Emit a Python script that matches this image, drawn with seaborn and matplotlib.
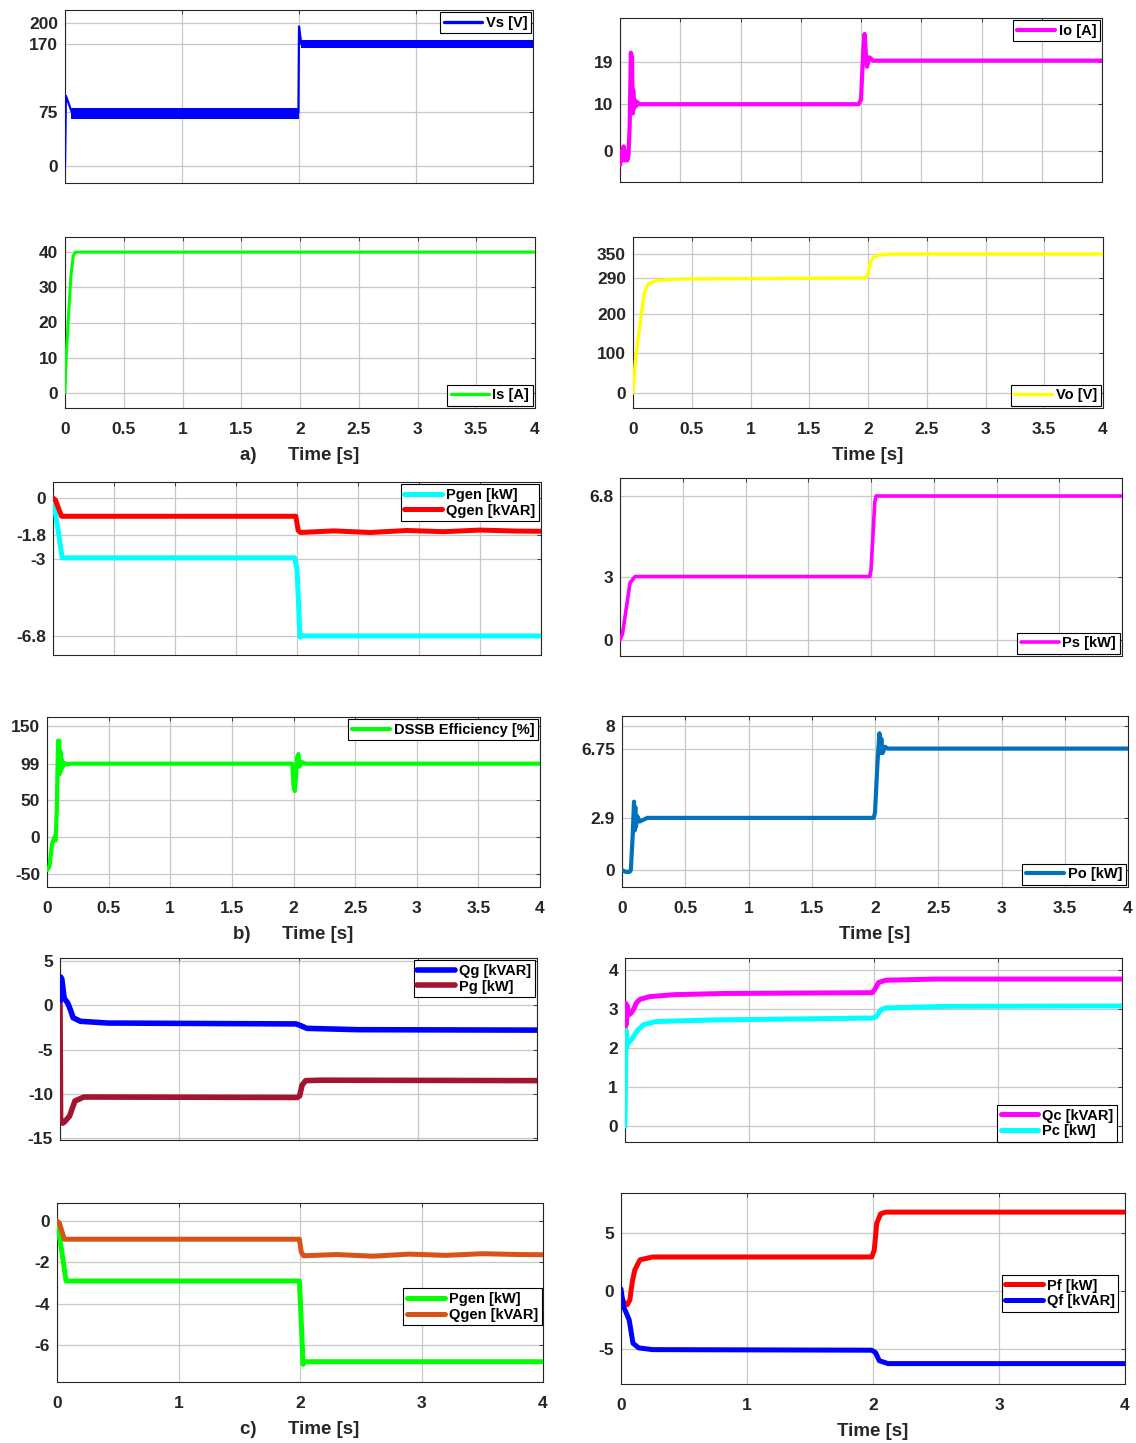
import numpy as np
import pandas as pd
import matplotlib
matplotlib.use("Agg")
import matplotlib.pyplot as plt
import seaborn as sns

# ---------------- data (time in s) ----------------
# a) source / output quantities
vs_t = [0, 0.008, 0.03, 0.06, 1.995, 2.0, 2.008, 2.02, 4.0]
vs_v = [0, 98, 88, 74, 74, 195, 185, 170, 170]
vs_band_t1 = [0.05, 1.998]
vs_band_lo1 = [65.5, 65.5]
vs_band_hi1 = [81.5, 81.5]
vs_band_t2 = [2.02, 4.0]
vs_band_lo2 = [165, 165]
vs_band_hi2 = [176, 176]

io_t = [0, 0.01, 0.02, 0.03, 0.04, 0.05, 0.06, 0.07, 0.08, 0.09, 0.1, 0.105, 0.11,
        0.115, 0.12, 0.13, 0.14, 0.16, 1.98, 2.0, 2.02, 2.03, 2.04, 2.05, 2.07, 2.1, 4.0]
io_v = [-3, 0, -2, 1, -2, 0, -2, -1, 5, 21, 20, 8, 13, 9, 11, 9.5, 10.5, 10, 10, 11,
        22, 25, 21, 18, 20, 19.3, 19.3]

is_t = [0, 0.01, 0.03, 0.05, 0.07, 0.09, 4.0]
is_v = [0, 10, 22, 33, 39, 40, 40]

vo_t = [0, 0.02, 0.05, 0.08, 0.1, 0.13, 0.2, 0.4, 1.98, 2.0, 2.02, 2.05, 2.1, 2.2, 4.0]
vo_v = [0, 80, 150, 220, 255, 275, 283, 287, 290, 300, 330, 343, 348, 350, 350]

# b) generator, DSSB power and efficiency
pgen_b_t = [0, 0.04, 0.075, 1.98, 2.0, 2.025, 2.035, 4.0]
pgen_b_v = [0, -1.5, -2.95, -2.95, -3.5, -6.85, -6.8, -6.8]
qgen_b_t = [0, 0.02, 0.07, 1.99, 2.01, 2.03, 2.3, 2.6, 2.9, 3.2, 3.5, 3.8, 4.0]
qgen_b_v = [0, -0.1, -0.9, -0.9, -1.6, -1.7, -1.62, -1.7, -1.6, -1.66, -1.58, -1.63, -1.64]

ps_t = [0, 0.02, 0.05, 0.08, 0.12, 1.99, 2.0, 2.03, 2.04, 4.0]
ps_v = [0, 0.3, 1.5, 2.7, 3.0, 3.0, 3.3, 6.5, 6.8, 6.8]

eff_t = [0.0, 0.02, 0.04, 0.06, 0.07, 0.08, 0.085, 0.09, 0.1, 0.105, 0.11, 0.115, 0.12,
         0.13, 0.14, 0.16, 0.2, 1.99, 2.0, 2.01, 2.02, 2.03, 2.04, 2.05, 2.07, 2.1, 4.0]
eff_v = [-45, -40, -10, 0, -5, 40, 90, 130, 130, 85, 115, 90, 105, 95, 100, 98, 99, 99,
         70, 62, 80, 108, 112, 95, 101, 99, 99]

po_t = [0, 0.03, 0.06, 0.07, 0.085, 0.095, 0.1, 0.105, 0.11, 0.12, 0.14, 0.2, 1.99, 2.0,
        2.02, 2.035, 2.04, 2.05, 2.06, 2.08, 2.1, 4.0]
po_v = [0, -0.1, -0.1, 0, 2.0, 3.8, 2.2, 3.5, 2.4, 3.0, 2.7, 2.9, 2.9, 3.2, 6.0, 7.6,
        6.5, 7.3, 6.5, 6.85, 6.75, 6.75]

# c) grid, compensator and filter powers
qg_t = [0, 0.005, 0.015, 0.035, 0.065, 0.09, 0.11, 0.17, 0.4, 1.98, 2.02, 2.07, 2.5, 4.0]
qg_v = [0.3, 3.2, 3.0, 0.8, 0.25, -0.6, -1.4, -1.8, -2.0, -2.1, -2.3, -2.6, -2.75, -2.8]
pg_t = [0, 0.005, 0.02, 0.035, 0.08, 0.125, 0.2, 1.99, 2.01, 2.03, 2.06, 2.2, 4.0]
pg_v = [0, -12.8, -13.3, -13.2, -12.5, -10.8, -10.35, -10.4, -10.2, -9.0, -8.5, -8.45, -8.5]

qc_t = [0, 0.005, 0.01, 0.015, 0.03, 0.05, 0.07, 0.09, 0.12, 0.2, 0.4, 0.8, 1.99, 2.01,
        2.04, 2.1, 2.5, 4.0]
qc_v = [2.5, 3.15, 2.6, 3.1, 2.85, 2.9, 3.0, 3.15, 3.25, 3.32, 3.37, 3.4, 3.42, 3.5,
        3.68, 3.74, 3.77, 3.77]
pc_t = [0, 0.008, 0.012, 0.02, 0.06, 0.1, 0.15, 0.25, 0.7, 1.99, 2.02, 2.06, 2.1, 2.6, 4.0]
pc_v = [0, 2.45, 2.0, 2.1, 2.25, 2.45, 2.6, 2.68, 2.72, 2.77, 2.8, 2.98, 3.03, 3.07, 3.08]

pgen_c_t = [0, 0.04, 0.075, 1.995, 2.015, 2.025, 2.04, 4.0]
pgen_c_v = [0, -1.5, -2.9, -2.9, -5.5, -6.93, -6.8, -6.8]
qgen_c_t = [0, 0.02, 0.06, 1.995, 2.01, 2.03, 2.3, 2.6, 2.9, 3.2, 3.5, 3.8, 4.0]
qgen_c_v = [0, -0.1, -0.88, -0.88, -1.5, -1.68, -1.62, -1.7, -1.6, -1.66, -1.58, -1.62, -1.63]

pf_t = [0, 0.03, 0.05, 0.07, 0.09, 0.11, 0.15, 0.25, 1.99, 2.01, 2.03, 2.06, 2.1, 4.0]
pf_v = [-0.5, -1.1, -1.2, -0.8, 0.8, 1.8, 2.65, 2.9, 2.9, 3.5, 5.8, 6.6, 6.75, 6.75]
qf_t = [0, 0.02, 0.065, 0.095, 0.14, 0.25, 1.99, 2.02, 2.05, 2.12, 4.0]
qf_v = [0.15, -1.35, -2.5, -4.5, -4.9, -5.05, -5.1, -5.3, -6.0, -6.25, -6.25]

# ---------------- styling ----------------
sns.set_theme(style="whitegrid")
plt.rcParams["font.family"] = ["Liberation Sans", "DejaVu Sans"]
plt.rcParams["font.weight"] = "bold"
plt.rcParams["axes.unicode_minus"] = False

W, H = 1136, 1443
fig = plt.figure(figsize=(W / 100, H / 100), dpi=100)
fig.patch.set_facecolor("white")

TXT = "#262626"
GRID = "#c8c8c8"


def fmt(v):
    return f"{v:g}"


def panel(box, ylim, yticks, xstep, show_xlabels, traces, leg_loc, leg_anchor=None,
          xlabel=None, bands=None):
    x0, y0, x1, y1 = box
    ax = fig.add_axes([x0 / W, 1 - y1 / H, (x1 - x0) / W, (y1 - y0) / H])
    ax.set_facecolor("white")
    if bands:
        for bt, lo, hi, col in bands:
            ax.fill_between(bt, lo, hi, color=col, linewidth=0, zorder=2)
    for t, v, col, lw, lab in traces:
        df = pd.DataFrame({"t": t, "v": v})
        sns.lineplot(data=df, x="t", y="v", ax=ax, color=col, linewidth=lw,
                     label=lab, estimator=None, sort=False, zorder=3)
    ax.set_xlim(0, 4)
    ax.set_ylim(*ylim)
    xt = np.arange(0, 4 + 1e-9, xstep)
    ax.set_xticks(xt)
    ax.set_yticks(yticks)
    ax.set_yticklabels([fmt(v) for v in yticks])
    if show_xlabels:
        ax.set_xticklabels([fmt(v) for v in xt])
    else:
        ax.set_xticklabels([])
    ax.tick_params(axis="both", which="both", direction="in", length=3, width=0.6,
                   colors=TXT, labelsize=12.5, top=True, right=True)
    ax.tick_params(axis="x", pad=10)
    ax.tick_params(axis="y", pad=5)
    for lab in ax.get_xticklabels() + ax.get_yticklabels():
        lab.set_fontweight("bold")
    ax.grid(True, color=GRID, linewidth=0.9)
    ax.set_axisbelow(True)
    for sp in ax.spines.values():
        sp.set_color(TXT)
        sp.set_linewidth(0.8)
        sp.set_visible(True)
    ax.set_ylabel("")
    if xlabel:
        ax.set_xlabel(xlabel, fontsize=13.5, fontweight="bold", color=TXT, labelpad=7)
    else:
        ax.set_xlabel("")
    kw = dict(loc=leg_loc, prop={"weight": "bold", "size": 10.5}, frameon=True,
              fancybox=False, framealpha=1, edgecolor="black", borderpad=0.25,
              labelspacing=0.12, handlelength=2.6, handletextpad=0.25,
              borderaxespad=0.15)
    if leg_anchor is not None:
        kw["bbox_to_anchor"] = leg_anchor
        kw["borderaxespad"] = 0
    leg = ax.legend(**kw)
    leg.get_frame().set_linewidth(0.8)
    for txt in leg.get_texts():
        txt.set_color("black")
    for ln in leg.get_lines():
        ln.set_linewidth(max(ln.get_linewidth(), 2.4))
    return ax


# a) top-left: source voltage
panel((65, 10, 533, 183), (-23.8, 218), [0, 75, 170, 200], 1, False,
      [(vs_t, vs_v, "#0000ff", 1.6, "Vs [V]")], "upper right",
      bands=[(vs_band_t1, vs_band_lo1, vs_band_hi1, "#0000ff"),
             (vs_band_t2, vs_band_lo2, vs_band_hi2, "#0000ff")])
# a) top-right: output current
panel((620, 18, 1102, 182), (-6.6, 28.4), [0, 10, 19], 0.5, False,
      [(io_t, io_v, "#ff00ff", 3.0, "Io [A]")], "upper right")
# a) source current
panel((65, 237, 535, 408), (-4.3, 44.3), [0, 10, 20, 30, 40], 0.5, True,
      [(is_t, is_v, "#00ff00", 2.2, "Is [A]")], "lower right",
      xlabel="a)      Time [s]")
# a) output voltage
panel((633, 237, 1103, 408), (-38, 393), [0, 100, 200, 290, 350], 0.5, True,
      [(vo_t, vo_v, "#ffff00", 2.4, "Vo [V]")], "lower right", xlabel="Time [s]")

# b) generator powers
panel((53, 482, 541, 655), (-7.74, 0.79), [-6.8, -3, -1.8, 0], 0.5, False,
      [(pgen_b_t, pgen_b_v, "#00ffff", 3.6, "Pgen [kW]"),
       (qgen_b_t, qgen_b_v, "#ff0000", 3.6, "Qgen [kVAR]")], "upper right")
# b) source power
panel((620, 478, 1122, 656), (-0.75, 7.65), [0, 3, 6.8], 0.5, False,
      [(ps_t, ps_v, "#ff00ff", 2.6, "Ps [kW]")], "lower right")
# b) efficiency
panel((47, 717, 540, 887), (-67.6, 162), [-50, 0, 50, 99, 150], 0.5, True,
      [(eff_t, eff_v, "#00ff00", 3.0, "DSSB Efficiency [%]")], "upper right",
      xlabel="b)      Time [s]")
# b) output power
panel((622, 716, 1128, 887), (-0.94, 8.56), [0, 2.9, 6.75, 8], 0.5, True,
      [(po_t, po_v, "#0072bd", 3.0, "Po [kW]")], "lower right", xlabel="Time [s]")

# c) grid powers
panel((60, 958, 537, 1140), (-15.2, 5.34), [-15, -10, -5, 0, 5], 1, False,
      [(qg_t, qg_v, "#0000ff", 4.0, "Qg [kVAR]"),
       (pg_t, pg_v, "#a2142f", 4.0, "Pg [kW]")], "upper right")
# c) compensator powers
panel((625, 958, 1122, 1142), (-0.41, 4.31), [0, 1, 2, 3, 4], 1, False,
      [(qc_t, qc_v, "#ff00ff", 3.6, "Qc [kVAR]"),
       (pc_t, pc_v, "#00ffff", 3.6, "Pc [kW]")], "lower right", leg_anchor=(0.99, 0.0))
# c) generator powers
panel((57, 1203, 543, 1382), (-7.78, 0.87), [-6, -4, -2, 0], 1, True,
      [(pgen_c_t, pgen_c_v, "#00ff00", 3.6, "Pgen [kW]"),
       (qgen_c_t, qgen_c_v, "#d95319", 3.6, "Qgen [kVAR]")], "center right",
      leg_anchor=(0.997, 0.42), xlabel="c)      Time [s]")
# c) filter powers
panel((621, 1193, 1125, 1384), (-8.0, 8.39), [-5, 0, 5], 1, True,
      [(pf_t, pf_v, "#ff0000", 3.6, "Pf [kW]"),
       (qf_t, qf_v, "#0000ff", 3.6, "Qf [kVAR]")], "center right",
      leg_anchor=(0.987, 0.474), xlabel="Time [s]")

fig.savefig("out.png", dpi=100, facecolor="white")
